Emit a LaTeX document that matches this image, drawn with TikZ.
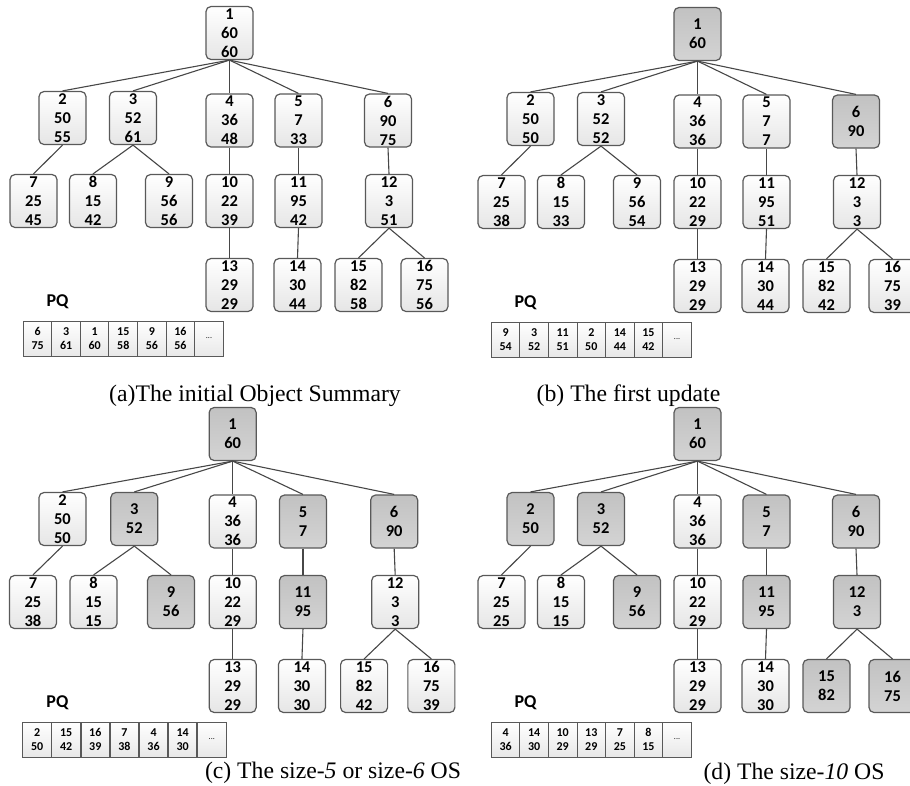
\documentclass[tikz,border=0pt]{standalone}
\usepackage{fontspec}
\setmainfont{Liberation Serif}
\newfontfamily\boxfont{Carlito}
\usetikzlibrary{positioning}
\tikzset{
  tbox/.style={draw=black!65, line width=1.2pt, rounded corners=5pt,
    minimum width=47pt, minimum height=53pt, inner sep=0pt, align=center,
    font=\boxfont\bfseries\fontsize{16.5}{19}\selectfont},
  wbox/.style={tbox, top color=white, bottom color=black!10},
  gbox/.style={tbox, top color=black!24, bottom color=black!17},
  pqcell/.style={draw=black!65, line width=1pt, top color=white, bottom color=black!9,
    minimum width=28.6pt, minimum height=35pt, inner sep=0pt, align=center,
    font=\boxfont\bfseries\fontsize{12}{13.6}\selectfont},
  pqmore/.style={pqcell, font=\boxfont\fontsize{8}{8}\selectfont},
  pqlabel/.style={anchor=base, inner sep=0pt, font=\boxfont\bfseries\fontsize{18}{18}\selectfont},
  link/.style={draw=black!72, line width=1.1pt},
  caption/.style={anchor=base, inner sep=0pt, font=\fontsize{23.7}{26}\selectfont},
}

\begin{document}
\begin{tikzpicture}[x=1pt, y=-1pt]
  \useasboundingbox (0,0) rectangle (910,785);
  \clip (0,0) rectangle (910,785);
  % layout of one panel, shifted for each of the four
  \foreach \p/\dx/\dy/\sx in {a/0/0/1, b/468/1/1, c/-1.2/401/1.019, d/468/401/1} {
    \begin{scope}[shift={(\dx,\dy)}, xscale=\sx]
      \foreach \n/\x/\y in {1/229.5/33, 2/62.5/118, 3/133/118, 4/229.5/120.5,
          5/298.5/120.5, 6/388/120.5, 7/33.5/201, 8/93/201, 9/169/201,
          10/229.5/201, 11/298.5/201, 12/389/201, 13/229.5/285,
          14/297.5/285, 15/358.5/285, 16/424.5/285}
        \coordinate (pos-\p\n) at (\x,\y);
      \coordinate (pos-\p-pq) at (57.5,306);
      \foreach \k in {1,...,7}
        \coordinate (pos-\p-q\k) at ({23.3+28.57*(\k-0.5)},338.5);
    \end{scope}
  }

  % (a) initial object summary
  \foreach \n/\t in {1/{1\\60\\60}, 2/{2\\50\\55}, 3/{3\\52\\61}, 4/{4\\36\\48},
      5/{5\\7\\33}, 6/{6\\90\\75}, 7/{7\\25\\45}, 8/{8\\15\\42}, 9/{9\\56\\56},
      10/{10\\22\\39}, 11/{11\\95\\42}, 12/{12\\3\\51}, 13/{13\\29\\29},
      14/{14\\30\\44}, 15/{15\\82\\58}, 16/{16\\75\\56}}
    \node[wbox] (a\n) at (pos-a\n) {\t};
  \node[pqlabel] (a-pq) at (pos-a-pq) {PQ};
  \foreach \k/\t in {1/{6\\75}, 2/{3\\61}, 3/{1\\60}, 4/{15\\58}, 5/{9\\56}, 6/{16\\56}}
    \node[pqcell] (a-q\k) at (pos-a-q\k) {\t};
  \node[pqmore] (a-q7) at (pos-a-q7) {...};

  % (b) first update
  \foreach \n/\t in {1/{1\\60}, 6/{6\\90}}
    \node[gbox] (b\n) at (pos-b\n) {\t};
  \foreach \n/\t in {2/{2\\50\\50}, 3/{3\\52\\52}, 4/{4\\36\\36}, 5/{5\\7\\7},
      7/{7\\25\\38}, 8/{8\\15\\33}, 9/{9\\56\\54}, 10/{10\\22\\29},
      11/{11\\95\\51}, 12/{12\\3\\3}, 13/{13\\29\\29}, 14/{14\\30\\44},
      15/{15\\82\\42}, 16/{16\\75\\39}}
    \node[wbox] (b\n) at (pos-b\n) {\t};
  \node[pqlabel] (b-pq) at (pos-b-pq) {PQ};
  \foreach \k/\t in {1/{9\\54}, 2/{3\\52}, 3/{11\\51}, 4/{2\\50}, 5/{14\\44}, 6/{15\\42}}
    \node[pqcell] (b-q\k) at (pos-b-q\k) {\t};
  \node[pqmore] (b-q7) at (pos-b-q7) {...};

  % (c) size-5 or size-6
  \foreach \n/\t in {1/{1\\60}, 3/{3\\52}, 5/{5\\7}, 6/{6\\90}, 9/{9\\56}, 11/{11\\95}}
    \node[gbox] (c\n) at (pos-c\n) {\t};
  \foreach \n/\t in {2/{2\\50\\50}, 4/{4\\36\\36}, 7/{7\\25\\38}, 8/{8\\15\\15},
      10/{10\\22\\29}, 12/{12\\3\\3}, 13/{13\\29\\29}, 14/{14\\30\\30},
      15/{15\\82\\42}, 16/{16\\75\\39}}
    \node[wbox] (c\n) at (pos-c\n) {\t};
  \node[pqlabel] (c-pq) at (pos-c-pq) {PQ};
  \foreach \k/\t in {1/{2\\50}, 2/{15\\42}, 3/{16\\39}, 4/{7\\38}, 5/{4\\36}, 6/{14\\30}}
    \node[pqcell] (c-q\k) at (pos-c-q\k) {\t};
  \node[pqmore] (c-q7) at (pos-c-q7) {...};

  % (d) size-10
  \foreach \n/\t in {1/{1\\60}, 2/{2\\50}, 3/{3\\52}, 5/{5\\7}, 6/{6\\90}, 9/{9\\56},
      11/{11\\95}, 12/{12\\3}, 15/{15\\82}, 16/{16\\75}}
    \node[gbox] (d\n) at (pos-d\n) {\t};
  \foreach \n/\t in {4/{4\\36\\36}, 7/{7\\25\\25}, 8/{8\\15\\15}, 10/{10\\22\\29},
      13/{13\\29\\29}, 14/{14\\30\\30}}
    \node[wbox] (d\n) at (pos-d\n) {\t};
  \node[pqlabel] (d-pq) at (pos-d-pq) {PQ};
  \foreach \k/\t in {1/{4\\36}, 2/{14\\30}, 3/{10\\29}, 4/{13\\29}, 5/{7\\25}, 6/{8\\15}}
    \node[pqcell] (d-q\k) at (pos-d-q\k) {\t};
  \node[pqmore] (d-q7) at (pos-d-q7) {...};

  % tree edges
  \foreach \p in {a,b,c,d}
    \foreach \u/\v in {1/2, 1/3, 1/4, 1/5, 1/6, 2/7, 3/8, 3/9, 4/10, 5/11,
        6/12, 10/13, 11/14, 12/15, 12/16}
      \draw[link] (\p\u.south) -- (\p\v.north);

  % captions
  \node[caption] (cap-a) at (255,401) {(a)The initial Object Summary};
  \node[caption] (cap-b) at (628.5,401) {(b) The first update};
  \node[caption] (cap-c) at (333,778) {(c) The size-\textit{5} or size-\textit{6} OS};
  \node[caption] (cap-d) at (794,779) {(d) The size-\textit{10} OS};
\end{tikzpicture}
\end{document}
